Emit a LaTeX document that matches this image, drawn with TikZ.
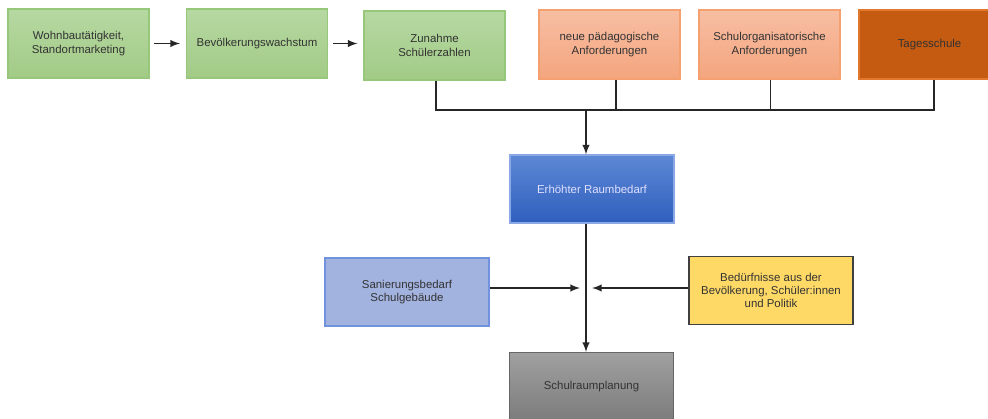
\documentclass[tikz,border=0pt]{standalone}
\usepackage{fontspec}
\setmainfont{Liberation Sans}
\usepackage{tikz}
\usetikzlibrary{shapes, arrows, positioning}

\definecolor{greentop}{HTML}{B6D8A2}
\definecolor{greenbot}{HTML}{A2CB86}
\definecolor{greenline}{HTML}{97C77B}
\definecolor{salmontop}{HTML}{F7BEA3}
\definecolor{salmonbot}{HTML}{F4A57E}
\definecolor{salmonline}{HTML}{F5A070}
\definecolor{rust}{HTML}{C55A11}
\definecolor{rustline}{HTML}{E0782F}
\definecolor{bluetop}{HTML}{5D88D4}
\definecolor{bluebot}{HTML}{2F5FBE}
\definecolor{blueline}{HTML}{8AA8E6}
\definecolor{lilac}{HTML}{A3B3E0}
\definecolor{lilacline}{HTML}{7193DD}
\definecolor{butter}{HTML}{FFD966}
\definecolor{graytop}{HTML}{A0A0A0}
\definecolor{graybot}{HTML}{7C7C7C}
\definecolor{textgray}{HTML}{333333}

\begin{document}
\begin{tikzpicture}[
  box/.style={rectangle, draw, minimum width=2.82cm, minimum height=1.38cm,
    align=center, line width=0.6pt, text=textgray,
    font=\fontsize{6.5}{7.6}\selectfont},
  wide/.style={minimum width=3.28cm, minimum height=1.36cm}, % lower row is a bit wider
  greenbox/.style={box, draw=greenline, top color=greentop, bottom color=greenbot},
  salmonbox/.style={box, draw=salmonline, top color=salmontop, bottom color=salmonbot},
  line/.style={draw=black!85, line width=0.9pt},
  arr/.style={line, -latex},
  thick]

  \useasboundingbox (0,0) rectangle (19.76,8.36);
  \clip (0,0) rectangle (19.76,8.36);

  % upper row
  \node[greenbox] (wohnbau) at (1.57,7.49) {Wohnbautätigkeit,\\Standortmarketing};
  \node[greenbox] (wachstum) at (5.14,7.49) {Bevölkerungswachstum};
  \node[greenbox] (zunahme) at (8.69,7.45) {Zunahme\\Schülerzahlen};
  \node[salmonbox] (paedagogik) at (12.19,7.47) {neue pädagogische\\Anforderungen};
  \node[salmonbox] (organisation) at (15.39,7.47) {Schulorganisatorische\\Anforderungen};
  \node[box, draw=rustline, fill=rust, text=black!80] (tagesschule) at (18.59,7.47) {Tagesschule};

  % middle and lower part
  \node[box, wide, draw=blueline, top color=bluetop, bottom color=bluebot, text=white!88!blue]
    (raumbedarf) at (11.84,4.58) {Erhöhter Raumbedarf};
  \node[box, wide, draw=lilacline, fill=lilac] (sanierung) at (8.14,2.52) {Sanierungsbedarf\\Schulgebäude};
  \node[box, wide, draw=black!75, line width=1pt, fill=butter]
    (beduerfnisse) at (15.42,2.55) {Bedürfnisse aus der\\Bevölkerung, Schüler:innen\\und Politik};
  \node[box, wide, draw=black!60, top color=graytop, bottom color=graybot]
    (planung) at (11.83,0.63) {Schulraumplanung};

  \coordinate (bus) at (11.72,6.16);
  \coordinate (knot) at (11.72,2.6);

  \draw[arr, shorten <=0.08cm, shorten >=0.12cm] (wohnbau.east) -- (wachstum.west);
  \draw[arr, shorten <=0.1cm, shorten >=0.12cm] (wachstum.east) -- (wachstum.east -| zunahme.west);

  \draw[line] ([xshift=0.03cm]zunahme.south) |- ([xshift=0.09cm]tagesschule.south |- bus)
    -- ([xshift=0.09cm]tagesschule.south);
  \draw[line] ([xshift=0.13cm]paedagogik.south) -- ([xshift=0.13cm]paedagogik.south |- bus);
  \draw[line] ([xshift=0.02cm]organisation.south) -- ([xshift=0.02cm]organisation.south |- bus);
  \draw[arr] (bus) -- (bus |- raumbedarf.north);
  \draw[arr] (bus |- raumbedarf.south) -- (bus |- planung.north);
  \draw[arr, shorten >=0.12cm] (sanierung.east |- knot) -- (knot);
  \draw[arr, shorten >=0.12cm] (beduerfnisse.west |- knot) -- (knot);
\end{tikzpicture}
\end{document}
